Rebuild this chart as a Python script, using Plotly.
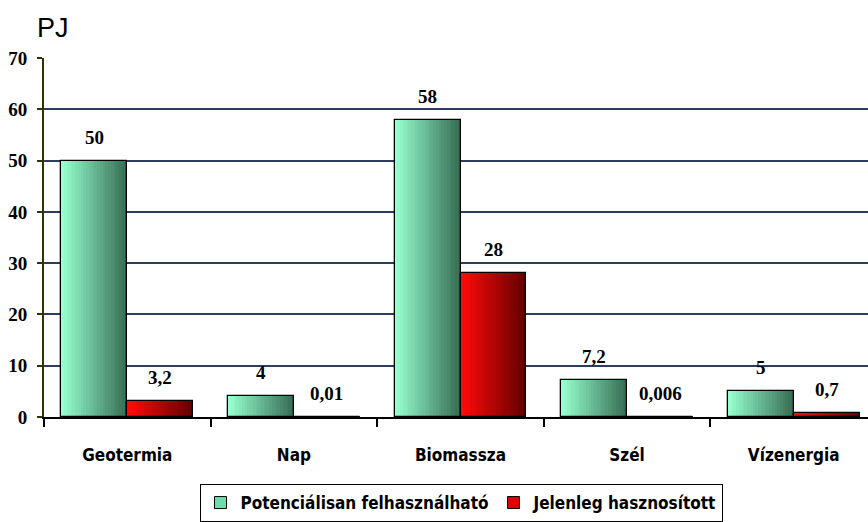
import plotly.graph_objects as go

categories = ["Geotermia", "Nap", "Biomassza", "Szél", "Vízenergia"]
potential = [50, 4, 58, 7.2, 5]
current = [3.2, 0.01, 28, 0.006, 0.7]
potential_labels = ["50", "4", "58", "7,2", "5"]
current_labels = ["3,2", "0,01", "28", "0,006", "0,7"]
series_names = ["Potenciálisan felhasználható", "Jelenleg hasznosított"]

BAR_W = 0.395
N_SLICES = 24
X_RANGE = [-0.5, 4.446]
PLOT_W = 824
green_grad = ((150, 255, 205), (55, 110, 85))
red_grad = ((255, 10, 10), (100, 0, 0))


def lerp(c0, c1, t):
    return "rgb(%d,%d,%d)" % tuple(round(a + (b - a) * t) for a, b in zip(c0, c1))


fig = go.Figure()

for values, base, grad in ((potential, -BAR_W, green_grad), (current, 0.0, red_grad)):
    sw = BAR_W / N_SLICES
    for k in range(N_SLICES):
        t = k / (N_SLICES - 1)
        fig.add_trace(go.Bar(
            x=categories, y=values, width=sw * 1.05, offset=base + k * sw,
            marker=dict(color=lerp(grad[0], grad[1], t), line=dict(width=0)),
            showlegend=False, hoverinfo="skip",
        ))

for values, base in ((potential, -BAR_W), (current, 0.0)):
    fig.add_trace(go.Bar(
        x=categories, y=values, width=BAR_W, offset=base,
        marker=dict(color="rgba(0,0,0,0)", line=dict(color="black", width=1.3)),
        showlegend=False, hoverinfo="skip",
    ))

# legend-only entries
for name, col in zip(series_names, ("rgb(110,220,170)", "rgb(220,0,0)")):
    fig.add_trace(go.Bar(
        x=categories, y=[None] * len(categories), name=name,
        marker=dict(color=col, line=dict(color="black", width=1)),
    ))

# value labels above bars
px_per_cat = PLOT_W / (X_RANGE[1] - X_RANGE[0])
label_font = dict(family="Liberation Serif, DejaVu Serif, serif", size=19, color="black")
annotations = []
for values, labels, base in ((potential, potential_labels, -BAR_W), (current, current_labels, 0.0)):
    for cat, v, lab in zip(categories, values, labels):
        annotations.append(dict(
            x=cat, y=v, xref="x", yref="y", text="<b>%s</b>" % lab,
            xshift=(base + BAR_W / 2) * px_per_cat, yshift=11,
            xanchor="center", yanchor="bottom", showarrow=False, font=label_font,
        ))

annotations.append(dict(
    text="PJ", xref="paper", yref="paper",
    x=(35 - 44) / PLOT_W, y=1 + (58 - 45) / 362, xanchor="left", yanchor="bottom",
    showarrow=False, font=dict(family="Liberation Sans, Arial, sans-serif", size=27, color="black"),
))

fig.update_layout(
    width=868, height=522,
    margin=dict(l=44, r=0, t=58, b=102),
    barmode="overlay", bargap=0,
    plot_bgcolor="white", paper_bgcolor="white",
    showlegend=True,
    legend=dict(
        orientation="h", x=(461 - 44) / PLOT_W, xanchor="center",
        y=-(488 - 420) / 362, yanchor="top",
        bordercolor="black", borderwidth=1, bgcolor="white",
        font=dict(family="DejaVu Sans Condensed, Liberation Sans Narrow, sans-serif",
                  size=17, color="black", weight="bold"),
        itemwidth=30, traceorder="normal", tracegroupgap=0,
    ),
    font=dict(family="Liberation Sans, Arial, sans-serif", color="black"),
    annotations=annotations,
)

fig.update_xaxes(
    type="category", range=X_RANGE,
    showline=True, linecolor="black", linewidth=2,
    ticks="outside", tickson="boundaries", ticklen=8, tickcolor="black", tickwidth=1.5,
    ticklabelstandoff=22,
    tickfont=dict(family="DejaVu Sans Condensed, Liberation Sans Narrow, sans-serif",
                  size=17, color="black", weight="bold"),
    showgrid=False, zeroline=False,
)
fig.update_yaxes(
    range=[0, 70], tickvals=[0, 10, 20, 30, 40, 50, 60, 70],
    showline=True, linecolor="#333300", linewidth=2,
    ticks="outside", ticklen=5, tickcolor="#333300", tickwidth=1.5,
    ticklabelstandoff=6,
    tickfont=dict(family="Liberation Serif, DejaVu Serif, serif", size=19, color="black", weight="bold"),
    showgrid=True, gridcolor="#2e3e5a", gridwidth=2, zeroline=False,
)

fig.write_html("out.html")
